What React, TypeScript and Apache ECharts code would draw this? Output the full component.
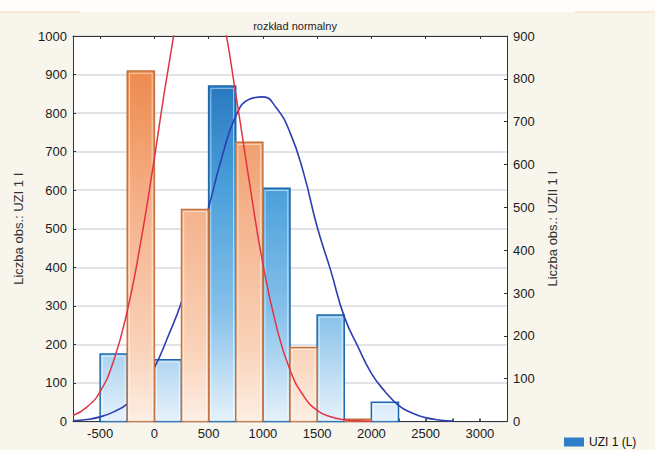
import React, { useEffect, useRef } from "react";
import * as echarts from "echarts";

const chartTitle = "rozkład normalny";
const leftAxisTitle = "Liczba obs.: UZI 1 I";
const rightAxisTitle = "Liczba obs.: UZII 1 I";
const blueName = "UZI 1 (L)";
const orangeName = "UZII 1 (R)";
const blueCurveName = "UZI 1 normalny";
const redCurveName = "UZII 1 normalny";

const xMin = -750;
const xMax = 3250;
const xTickValues = [-500, -250, 0, 250, 500, 750, 1000, 1250, 1500, 1750, 2000, 2250, 2500, 2750, 3000];
const xLabelValues = [-500, 0, 500, 1000, 1500, 2000, 2500, 3000];
const topTickValues = [-500, 0, 500, 1000, 1500, 2000, 2500, 3000];

const binHalfWidth = 250;
const blueBinStarts = [-500, 0, 500, 1000, 1500, 2000];
const blueCounts = [175, 160, 870, 605, 276, 50];
const orangeBinStarts = [-250, 250, 750, 1250, 1750];
const orangeCounts = [818, 495, 652, 173, 5];

const blueCurveX = [-750, -625, -500, -375, -250, -125, 0, 125, 250, 375, 500, 625, 750, 875, 1000, 1125, 1250, 1375, 1500, 1625, 1750, 1875, 2000, 2125, 2250, 2375, 2500, 2625, 2750];
const blueCurveY = [2, 5, 12, 25, 46, 85, 140, 220, 310, 430, 555, 688, 792, 836, 842, 813, 750, 645, 505, 392, 272, 195, 125, 78, 42, 22, 10, 4, 1];

const redCurveX = [-750, -625, -500, -375, -250, -125, 0, 125, 250, 375, 500, 625, 750, 875, 1000, 1125, 1250, 1375, 1500, 1625, 1750, 1875, 2000];
const redCurveY = [14, 33, 70, 142, 258, 420, 615, 820, 985, 1075, 1065, 950, 765, 560, 368, 222, 120, 60, 26, 11, 4, 1.5, 0.5];

const FONT = '"Liberation Sans", Arial, Helvetica, sans-serif';
const plain = (v: number) => String(v);

export default function App() {
  const ref = useRef<HTMLDivElement>(null);

  useEffect(() => {
    if (!ref.current) return;
    const chart = echarts.init(ref.current, null, { renderer: "svg" });

    const gridLeft = 73;
    const gridRight = 148;
    const gridTop = 36;
    const gridBottom = 28.5;
    const plotTop = gridTop;
    const plotBottom = 450 - gridBottom;

    const blueGrad = new echarts.graphic.LinearGradient(
      0, plotTop, 0, plotBottom,
      [
        { offset: 0, color: "#1d6ab2" },
        { offset: 0.13, color: "#2a79c1" },
        { offset: 0.39, color: "#4a9fda" },
        { offset: 0.72, color: "#88c1ea" },
        { offset: 1, color: "#e6f2fb" },
      ],
      true
    );
    const orangeGrad = new echarts.graphic.LinearGradient(
      0, plotTop, 0, plotBottom,
      [
        { offset: 0, color: "#ea7a3c" },
        { offset: 0.09, color: "#ee8a4f" },
        { offset: 0.28, color: "#f2a06d" },
        { offset: 0.45, color: "#f5b28c" },
        { offset: 0.81, color: "#f9d2b8" },
        { offset: 1, color: "#fdeee4" },
      ],
      true
    );

    const makeRender = (fill: any, stroke: string) => (params: any, api: any) => {
      const x0 = api.value(0);
      const x1 = api.value(1);
      const v = api.value(2);
      const p0 = api.coord([x0, v]);
      const p1 = api.coord([x1, 0]);
      const x = p0[0];
      const y = p0[1];
      const w = p1[0] - p0[0];
      const h = p1[1] - p0[1];
      const children: any[] = [
        {
          type: "rect",
          shape: { x, y, width: w, height: h },
          style: { fill, stroke, lineWidth: 1.5 },
        },
      ];
      if (h > 6) {
        children.push({
          type: "rect",
          shape: { x: x + 2.2, y: y + 2.2, width: w - 4.4, height: h - 3 },
          style: { fill: "none", stroke: "rgba(255,255,255,0.55)", lineWidth: 1 },
        });
      }
      return { type: "group", children };
    };

    const blueData = blueBinStarts.map((s, i) => [s, s + binHalfWidth, blueCounts[i]]);
    const orangeData = orangeBinStarts.map((s, i) => [s, s + binHalfWidth, orangeCounts[i]]);

    const option: any = {
      animation: false,
      backgroundColor: "#f8f5ec",
      textStyle: { fontFamily: FONT },
      title: {
        text: chartTitle,
        left: 290,
        top: 15,
        textAlign: "center",
        textStyle: { fontSize: 11, fontWeight: "normal", color: "#222", fontFamily: FONT },
      },
      legend: {
        left: 564,
        top: 436,
        itemWidth: 20,
        itemHeight: 9,
        itemGap: 8,
        padding: 0,
        data: [{ name: blueName, icon: "rect" }],
        textStyle: { fontSize: 12, color: "#111", fontFamily: FONT },
      },
      graphic: [
        { type: "rect", shape: { x: 0, y: 0, width: 655, height: 12 }, style: { fill: "#fefdfb" }, z: -10 },
        { type: "line", shape: { x1: 0, y1: 12, x2: 80, y2: 12 }, style: { stroke: "#f6d9b0", lineWidth: 1 } },
        { type: "line", shape: { x1: 575, y1: 12, x2: 655, y2: 12 }, style: { stroke: "#f6d9b0", lineWidth: 1 } },
      ],
      grid: {
        left: gridLeft,
        right: gridRight,
        top: gridTop,
        bottom: gridBottom,
        show: true,
        backgroundColor: "#ffffff",
        borderWidth: 0,
      },
      xAxis: [
        {
          type: "value",
          min: xMin,
          max: xMax,
          interval: 250,
          position: "bottom",
          axisLine: { show: true, onZero: false, lineStyle: { color: "#333", width: 1 } },
          axisTick: { show: true, inside: true, length: 3, customValues: xTickValues, lineStyle: { color: "#222", width: 1.5 } },
          axisLabel: { show: true, customValues: xLabelValues, formatter: plain, fontSize: 13, color: "#1a1a1a", margin: 5, fontFamily: FONT },
          splitLine: { show: false },
        },
        {
          type: "value",
          min: xMin,
          max: xMax,
          interval: 250,
          position: "top",
          axisLine: { show: true, onZero: false, lineStyle: { color: "#333", width: 1 } },
          axisTick: { show: true, inside: true, length: 3, customValues: topTickValues, lineStyle: { color: "#333" } },
          axisLabel: { show: false },
          splitLine: { show: false },
        },
      ],
      yAxis: [
        {
          type: "value",
          min: 0,
          max: 1000,
          interval: 100,
          position: "left",
          name: leftAxisTitle,
          nameLocation: "middle",
          nameRotate: 90,
          nameGap: 48,
          nameTextStyle: { fontSize: 13, color: "#333", fontFamily: FONT },
          axisLine: { show: true, onZero: false, lineStyle: { color: "#333", width: 1 } },
          axisTick: { show: true, inside: true, length: 3, lineStyle: { color: "#333" } },
          axisLabel: { fontSize: 13, color: "#1a1a1a", margin: 6, formatter: plain, fontFamily: FONT },
          splitLine: { show: true, lineStyle: { color: "#d6dbe0", width: 1.5 } },
        },
        {
          type: "value",
          min: 0,
          max: 900,
          interval: 100,
          position: "right",
          name: rightAxisTitle,
          nameLocation: "middle",
          nameRotate: 90,
          nameGap: 37,
          nameTextStyle: { fontSize: 13, color: "#333", fontFamily: FONT },
          axisLine: { show: true, onZero: false, lineStyle: { color: "#333", width: 1 } },
          axisTick: { show: true, inside: true, length: 3, lineStyle: { color: "#333" } },
          axisLabel: { fontSize: 13, color: "#1a1a1a", margin: 6, formatter: plain, fontFamily: FONT },
          splitLine: { show: false },
        },
      ],
      series: [
        {
          name: blueName,
          type: "custom",
          xAxisIndex: 0,
          yAxisIndex: 0,
          z: 2,
          itemStyle: { color: "#2f7fc8" },
          encode: { x: [0, 1], y: 2 },
          renderItem: makeRender(blueGrad, "#1c6aad"),
          data: blueData,
        },
        {
          name: blueCurveName,
          type: "line",
          xAxisIndex: 0,
          yAxisIndex: 0,
          z: 3,
          smooth: true,
          showSymbol: false,
          clip: true,
          lineStyle: { color: "#2b3fb2", width: 1.6 },
          data: blueCurveX.map((x, i) => [x, blueCurveY[i]]),
        },
        {
          name: orangeName,
          type: "custom",
          xAxisIndex: 0,
          yAxisIndex: 1,
          z: 4,
          itemStyle: { color: "#ee8a4f" },
          encode: { x: [0, 1], y: 2 },
          renderItem: makeRender(orangeGrad, "#c4733f"),
          data: orangeData,
        },
        {
          name: redCurveName,
          type: "line",
          xAxisIndex: 0,
          yAxisIndex: 1,
          z: 5,
          smooth: true,
          showSymbol: false,
          clip: true,
          lineStyle: { color: "#e23345", width: 1.5 },
          data: redCurveX.map((x, i) => [x, redCurveY[i]]),
        },
      ],
    };

    chart.setOption(option);
    return () => {
      chart.dispose();
    };
  }, []);

  return (
    <div
      ref={ref}
      style={{ position: "fixed", left: 0, top: 0, width: 655, height: 450 }}
    />
  );
}
